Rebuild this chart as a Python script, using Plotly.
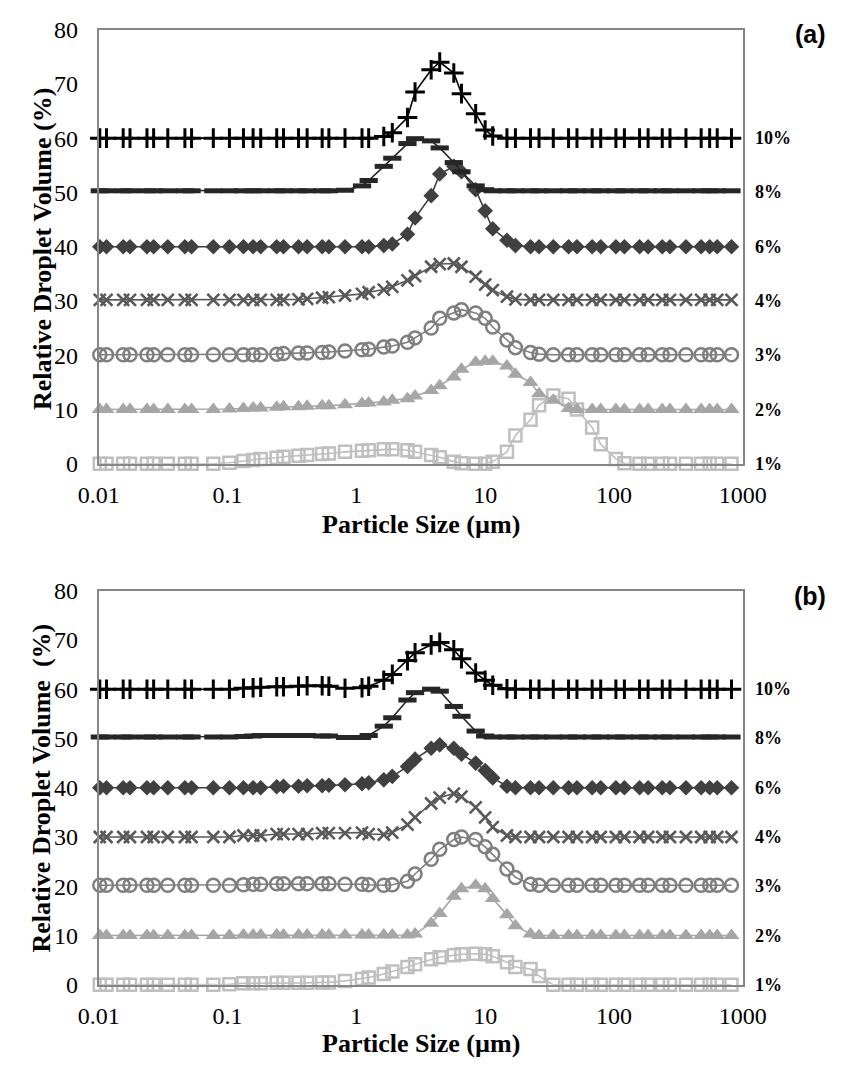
import plotly.graph_objects as go

# Particle size classes (µm)
sizes = [0.0102, 0.0115, 0.0155, 0.0175, 0.0237, 0.0267, 0.0344, 0.0467, 0.0526, 0.0776,
         0.1035, 0.133, 0.158, 0.181, 0.241, 0.272, 0.356, 0.415, 0.543, 0.612,
         0.817, 1.107, 1.247, 1.634, 1.902, 2.495, 2.857, 3.81, 4.44, 5.71,
         6.55, 8.44, 10.0, 11.45, 14.76, 17.18, 22.5, 26.2, 33.8, 44.4,
         51.6, 67.7, 78.9, 103.5, 120.5, 158, 184, 237, 272, 362,
         475, 553, 633, 817]

series_labels = ["1%", "2%", "3%", "4%", "6%", "8%", "10%"]
label_levels = [0, 10, 20, 30, 40, 50, 60]
tick_vals = [0.01, 0.1, 1, 10, 100, 1000]
tick_text = ["0.01", "0.1", "1", "10", "100", "1000"]

# ---- Panel (a): plotted (offset) relative droplet volume (%) ----
a_10 = [60.0]*23 + [60.3, 61.0, 63.8, 68.5, 72.6, 74.0, 72.0, 68.2, 64.5, 61.5, 60.4] + [60.0]*20
a_8 = [50.3]*20 + [50.4, 51.2, 52.2, 54.8, 56.3, 59.0, 59.9, 59.5, 58.2, 55.5, 53.8, 51.2, 50.5] + [50.3]*21
a_6 = [40.0]*23 + [40.2, 40.5, 42.3, 45.3, 49.4, 53.4, 54.8, 53.8, 50.5, 46.6, 43.3, 41.2, 40.2] + [40.0]*18
a_4 = [30.2]*16 + [30.3, 30.4, 30.6, 30.7, 31.0, 31.3, 31.6, 32.1, 32.6, 33.8, 34.6, 36.3, 36.8, 36.9,
                   36.3, 34.5, 33.0, 32.0, 30.8, 30.3] + [30.2]*18
a_3 = [20.1]*14 + [20.2, 20.3, 20.4, 20.4, 20.5, 20.6, 20.8, 21.0, 21.1, 21.5, 21.7, 22.4, 23.2, 25.0,
                   26.8, 27.8, 28.4, 27.8, 26.8, 25.2, 22.8, 21.4, 20.5, 20.2] + [20.1]*16
a_2 = [10.0]*10 + [10.1, 10.2, 10.3, 10.3, 10.4, 10.5, 10.5, 10.6, 10.7, 10.7, 10.9, 11.1, 11.2, 11.4,
                   11.7, 12.0, 12.5, 13.5, 14.4, 16.0, 17.4, 18.7, 18.9, 18.9, 18.0, 16.5, 15.0, 12.9,
                   11.7, 10.2] + [10.0]*14
a_1 = [0.0]*10 + [0.2, 0.5, 0.7, 0.9, 1.1, 1.3, 1.5, 1.6, 1.8, 1.9, 2.2, 2.4, 2.5, 2.7, 2.7, 2.5, 2.2,
                  1.6, 1.2, 0.4, 0.1, 0.0, 0.0, 0.4, 2.2, 5.2, 8.1, 10.8, 12.6, 12.0, 10.0, 6.7, 3.6,
                  0.9, 0.1] + [0.0]*9

# ---- Panel (b) ----
b_10 = [60.0]*11 + [60.2, 60.3, 60.4, 60.5, 60.5, 60.6, 60.7, 60.7, 60.6, 60.2, 60.3, 60.6, 61.8, 63.0,
                    65.8, 67.4, 69.0, 69.5, 68.0, 66.2, 63.3, 61.8, 60.8, 60.1] + [60.0]*19
b_8 = [50.3]*11 + [50.4, 50.5, 50.6, 50.6, 50.6, 50.6, 50.6, 50.5, 50.5, 50.2, 50.2, 50.6, 52.5, 54.2,
                   57.8, 59.3, 60.0, 59.6, 56.5, 54.5, 51.5, 50.5] + [50.3]*21
b_6 = [40.0]*14 + [40.2, 40.3, 40.3, 40.4, 40.4, 40.5, 40.6, 40.8, 41.0, 41.6, 42.3, 44.3, 45.8, 48.0,
                   48.7, 48.0, 46.8, 45.0, 43.5, 42.0, 40.3] + [40.0]*19
b_4 = [30.0]*11 + [30.3, 30.3, 30.3, 30.6, 30.6, 30.6, 30.6, 30.8, 30.8, 30.8, 30.9, 30.6, 30.5, 30.9,
                   32.5, 34.0, 36.8, 38.0, 38.8, 38.2, 36.0, 34.0, 32.0, 30.3] + [30.0]*19
b_3 = [20.2]*11 + [20.3, 20.4, 20.4, 20.5, 20.5, 20.5, 20.5, 20.5, 20.5, 20.4, 20.4, 20.3, 20.2, 20.3,
                   21.0, 22.5, 25.5, 27.5, 29.5, 30.0, 29.5, 28.0, 26.5, 23.5, 21.8, 20.4] + [20.2]*17
b_2 = [10.0]*11 + [10.1]*15 + [10.3, 12.5, 14.5, 18.0, 19.5, 20.2, 19.5, 17.5, 14.2, 12.0, 10.3] + [10.0]*17
b_1 = [0.0]*10 + [0.1, 0.3, 0.3, 0.3, 0.4, 0.4, 0.4, 0.4, 0.5, 0.5, 0.8, 1.2, 1.5, 2.2, 2.7, 3.6, 4.2,
                  5.2, 5.6, 6.0, 6.2, 6.3, 6.2, 5.8, 4.6, 3.6, 3.2, 1.8] + [0.0]*16

panel_a = [a_1, a_2, a_3, a_4, a_6, a_8, a_10]
panel_b = [b_1, b_2, b_3, b_4, b_6, b_8, b_10]

styles = [
    dict(color="#bfbfbf", symbol="square-open", size=12, lw=2.5),
    dict(color="#a6a6a6", symbol="triangle-up", size=14, lw=0),
    dict(color="#7f7f7f", symbol="circle-open", size=13, lw=2.5),
    dict(color="#595959", symbol="x-thin", size=12, lw=2.6),
    dict(color="#404040", symbol="diamond", size=12, lw=0),
    dict(color="#262626", symbol="line-ew", size=13, lw=5),
    dict(color="#000000", symbol="cross-thin", size=14, lw=3),
]

fig = go.Figure()
for panel, (xa, ya) in [(panel_a, ("x", "y")), (panel_b, ("x2", "y2"))]:
    for vals, st, name in zip(panel, styles, series_labels):
        fig.add_trace(go.Scatter(
            x=sizes, y=vals, xaxis=xa, yaxis=ya, mode="lines+markers", name=name,
            showlegend=False, cliponaxis=False,
            line=dict(color=st["color"], width=1.6),
            marker=dict(symbol=st["symbol"], size=st["size"], color=st["color"],
                        line=dict(color=st["color"], width=st["lw"])),
        ))

W, H = 853, 1072
xdom = [82 / W, 762 / W]
serif = "Liberation Serif"
axis_common = dict(showgrid=False, zeroline=False, showline=True, mirror=True,
                   linecolor="#868686", linewidth=1.5, ticks="",
                   tickfont=dict(family=serif, size=24, color="black"))

xcommon = dict(axis_common, type="log", range=[-2, 3], tickvals=tick_vals, ticktext=tick_text,
               ticklabelstandoff=9)
ycommon = dict(axis_common, range=[0, 80], dtick=10, tick0=0, ticklabelstandoff=14)

fig.update_layout(
    width=W, height=H, margin=dict(l=0, r=0, t=0, b=0),
    paper_bgcolor="white", plot_bgcolor="white",
    xaxis=dict(xcommon, domain=xdom, anchor="y"),
    yaxis=dict(ycommon, domain=[1 - 462 / H, 1 - 17 / H], anchor="x"),
    xaxis2=dict(xcommon, domain=xdom, anchor="y2"),
    yaxis2=dict(ycommon, domain=[1 - 996 / H, 1 - 592 / H], anchor="x2"),
)

ann = []
for yref in ["y", "y2"]:
    for lab, lev in zip(series_labels, label_levels):
        ann.append(dict(text="<b>%s</b>" % lab, x=773 / W, xref="paper", xanchor="left",
                        y=lev, yref=yref, yanchor="middle", showarrow=False,
                        font=dict(family=serif, size=18, color="black")))

titles = [
    ("<b>Relative Droplet Volume (%)</b>", 22, 242, -90),
    ("<b>Relative Droplet Volume  (%)</b>", 22, 794, -90),
    ("<b>Particle Size (µm)</b>", 422, 524, 0),
    ("<b>Particle Size (µm)</b>", 422, 1056, 0),
]
for txt, px, py, ang in titles:
    ann.append(dict(text=txt, x=px / W, y=1 - py / H, xref="paper", yref="paper",
                    xanchor="center", yanchor="middle", textangle=ang, showarrow=False,
                    font=dict(family=serif, size=26, color="black")))

for txt, py in [("(a)", 22), ("(b)", 597)]:
    ann.append(dict(text="<b>%s</b>" % txt, x=852 / W, y=1 - py / H, xref="paper", yref="paper",
                    xanchor="right", yanchor="middle", showarrow=False,
                    font=dict(family="Liberation Sans", size=25, color="black")))

fig.update_layout(annotations=ann)
fig.write_html("out.html")
